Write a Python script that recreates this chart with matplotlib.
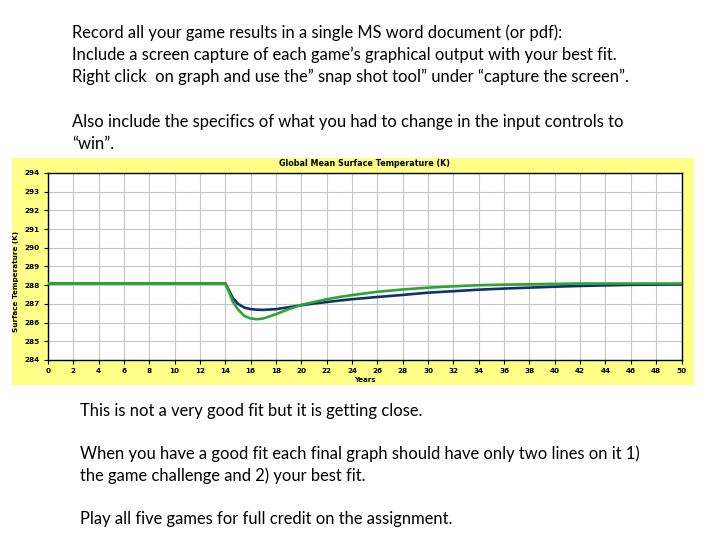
import matplotlib
matplotlib.use("Agg")
import matplotlib.pyplot as plt
from matplotlib.patches import Rectangle

# game challenge (green) and best fit (blue), surface temperature in K
years = [0, 14, 14.3, 14.6, 15, 15.5, 16, 16.5, 17, 18, 19, 20, 21, 22, 23, 24,
         26, 28, 30, 32, 34, 36, 38, 40, 42, 44, 46, 48, 50]
challenge = [288.1, 288.1, 287.6, 287.1, 286.7, 286.35, 286.22, 286.18, 286.22,
             286.45, 286.72, 286.95, 287.1, 287.25, 287.37, 287.47,
             287.65, 287.77, 287.87, 287.94, 288.0, 288.03, 288.05, 288.07,
             288.09, 288.09, 288.09, 288.09, 288.09]
best_fit = [288.1, 288.1, 287.7, 287.3, 287.0, 286.8, 286.72, 286.69, 286.68,
            286.72, 286.82, 286.93, 287.02, 287.1, 287.18, 287.25,
            287.37, 287.48, 287.6, 287.68, 287.76, 287.82, 287.87, 287.92,
            287.96, 287.99, 288.02, 288.03, 288.04]

x_ticks = list(range(0, 51, 2))
y_ticks = list(range(284, 295))

top_lines = [
    "Record all your game results in a single MS word document (or pdf):",
    "Include a screen capture of each game\u2019s graphical output with your best fit.",
    "Right click  on graph and use the\u201d snap shot tool\u201d under \u201ccapture the screen\u201d.",
    "",
    "Also include the specifics of what you had to change in the input controls to",
    "\u201cwin\u201d.",
]
bottom_lines = [
    "This is not a very good fit but it is getting close.",
    "",
    "When you have a good fit each final graph should have only two lines on it 1)",
    "the game challenge and 2) your best fit.",
    "",
    "Play all five games for full credit on the assignment.",
]

W, H = 720, 540
fig = plt.figure(figsize=(7.2, 5.4), dpi=100)
fig.patch.set_facecolor("white")

# yellow panel behind the chart
fig.patches.append(Rectangle((12 / W, 1 - 385 / H), 682 / W, 227.5 / H,
                             transform=fig.transFigure, facecolor="#ffff88",
                             edgecolor="none", zorder=-5))

ax = fig.add_axes([48 / W, 1 - 360 / H, 633.5 / W, 187 / H])
ax.set_zorder(1)
ax.set_facecolor("white")
ax.plot(years, best_fit, color="#12306e", lw=1.9, zorder=3)
ax.plot(years, challenge, color="#2ea52e", lw=1.9, zorder=4)
ax.set_xlim(0, 50)
ax.set_ylim(284, 294)
ax.set_xticks(x_ticks)
ax.set_yticks(y_ticks)
ax.grid(True, color="#c4c4c4", lw=0.8)
ax.set_axisbelow(True)
for s in ax.spines.values():
    s.set_color("black")
    s.set_linewidth(1.0)
ax.tick_params(labelsize=5.2, length=3, width=0.8, colors="black", pad=3)
for lab in ax.get_xticklabels() + ax.get_yticklabels():
    lab.set_fontweight("bold")
ax.set_title("Global Mean Surface Temperature (K)", fontsize=5.8,
             fontweight="bold", pad=5)
ax.set_xlabel("Years", fontsize=5, fontweight="bold", labelpad=2)
ax.set_ylabel("Surface Temperature (K)", fontsize=5.2, fontweight="bold")
ax.yaxis.set_label_coords(-0.046, 0.42)

# slide text
font = dict(fontsize=11.9, family="Lato", color="black", va="baseline")
y = 38
for line in top_lines:
    fig.text(72 / W, 1 - y / H, line, **font)
    y += 22.2
y = 416
for line in bottom_lines:
    fig.text(80 / W, 1 - y / H, line, **font)
    y += 21.6

fig.savefig("out.png", dpi=100, facecolor="white")
